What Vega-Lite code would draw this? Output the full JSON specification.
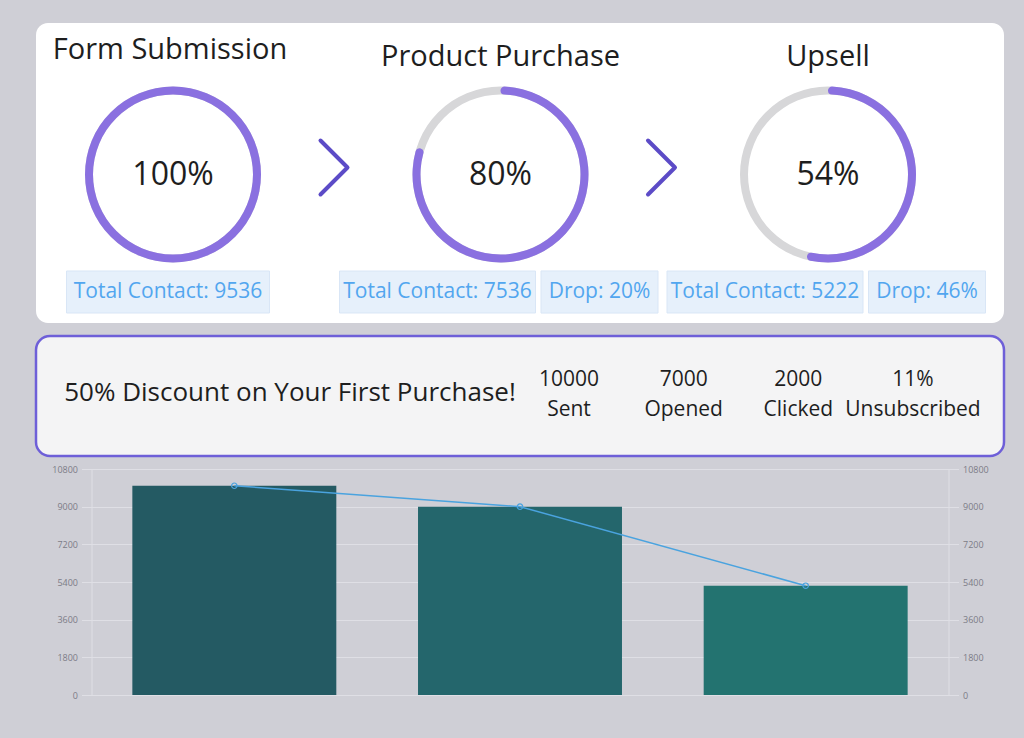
{
  "$schema": "https://vega.github.io/schema/vega-lite/v6.json",
  "background": "#cfcfd6",
  "padding": {"left": 34, "top": 23, "right": 22, "bottom": 40},
  "config": {"font": "Open Sans", "view": {"stroke": null}},
  "datasets": {
    "stages": [
      {"stage": "Form Submission", "share": 1, "contact": "Total Contact: 9536", "drop": null},
      {"stage": "Product Purchase", "share": 0.8, "contact": "Total Contact: 7536", "drop": "Drop: 20%"},
      {"stage": "Upsell", "share": 0.54, "contact": "Total Contact: 5222", "drop": "Drop: 46%"}
    ],
    "campaign": [
      {"metric": "Sent", "value": "10000"},
      {"metric": "Opened", "value": "7000"},
      {"metric": "Clicked", "value": "2000"},
      {"metric": "Unsubscribed", "value": "11%"}
    ],
    "funnel": [
      {"stage": "Form Submission", "count": 10000},
      {"stage": "Product Purchase", "count": 9000},
      {"stage": "Upsell", "count": 5222}
    ]
  },
  "bounds": "flush",
  "spacing": 13,
  "center": true,
  "vconcat": [
    {
      "width": 968,
      "height": 300,
      "view": {"fill": "white", "stroke": null, "cornerRadius": 12},
      "data": {"name": "stages"},
      "layer": [
        {
          "mark": {"type": "arc", "radius": 88, "radius2": 80, "color": "#d7d7d9"},
          "encoding": {
            "x": {"field": "stage", "type": "nominal", "axis": null, "scale": {"type": "point", "domain": ["Form Submission", "Product Purchase", "Upsell"], "range": [137, 792], "padding": 0}},
            "y": {"datum": "ring", "type": "nominal", "axis": null, "scale": {"type": "point", "domain": ["title", "ring", "box"], "range": [34, 269], "padding": 0}},
            "theta": {"datum": 1, "type": "quantitative", "scale": {"domain": [0, 1]}},
            "theta2": {"datum": 0}
          }
        },
        {
          "mark": {"type": "arc", "radius": 88, "radius2": 80, "color": "#8a70e0", "cornerRadius": 4},
          "encoding": {
            "x": {"field": "stage", "type": "nominal"},
            "y": {"datum": "ring", "type": "nominal"},
            "theta": {"field": "share", "type": "quantitative", "stack": null},
            "theta2": {"datum": 0}
          }
        },
        {
          "mark": {"type": "text", "fontSize": 32, "color": "#1e1e1e"},
          "encoding": {
            "x": {"field": "stage", "type": "nominal"},
            "y": {"datum": "ring", "type": "nominal"},
            "text": {"field": "share", "type": "quantitative", "format": ".0%"}
          }
        },
        {
          "transform": [{"filter": "datum.stage != 'Form Submission'"}],
          "mark": {"type": "text", "fontSize": 29, "color": "#1e1e1e"},
          "encoding": {
            "x": {"field": "stage", "type": "nominal"},
            "y": {"datum": "title", "type": "nominal"},
            "text": {"field": "stage", "type": "nominal"}
          }
        },
        {
          "transform": [{"filter": "datum.stage == 'Form Submission'"}],
          "mark": {"type": "text", "fontSize": 29, "color": "#1e1e1e", "dy": -7, "dx": -3},
          "encoding": {
            "x": {"field": "stage", "type": "nominal"},
            "y": {"datum": "title", "type": "nominal"},
            "text": {"field": "stage", "type": "nominal"}
          }
        },
        {
          "transform": [{"filter": "datum.stage != 'Upsell'"}],
          "mark": {"type": "point", "shape": "M-0.5,-1L0.5,0L-0.5,1", "size": 2916, "filled": false, "color": "#5c4bc7", "strokeWidth": 4, "strokeCap": "round", "strokeJoin": "round", "opacity": 1, "xOffset": 161, "yOffset": -7},
          "encoding": {
            "x": {"field": "stage", "type": "nominal"},
            "y": {"datum": "ring", "type": "nominal"}
          }
        },
        {
          "transform": [{"filter": "datum.stage == 'Form Submission'"}],
          "layer": [
            {
              "mark": {"type": "point", "shape": "M-1,-0.207H1V0.207H-1Z", "size": 41209, "filled": true, "color": "#e6f0fb", "stroke": "#d9e6f6", "strokeWidth": 1, "opacity": 1, "xOffset": -5}
            },
            {
              "mark": {"type": "text", "fontSize": 21, "color": "#52a6ef", "xOffset": -5},
              "encoding": {"text": {"field": "contact", "type": "nominal"}}
            }
          ],
          "encoding": {
            "x": {"field": "stage", "type": "nominal"},
            "y": {"datum": "box", "type": "nominal"}
          }
        },
        {
          "transform": [{"filter": "datum.stage != 'Form Submission'"}],
          "layer": [
            {
              "mark": {"type": "point", "shape": "M-1,-0.214H1V0.214H-1Z", "size": 38416, "filled": true, "color": "#e6f0fb", "stroke": "#d9e6f6", "strokeWidth": 1, "opacity": 1, "xOffset": -63}
            },
            {
              "mark": {"type": "text", "fontSize": 21, "color": "#52a6ef", "xOffset": -63},
              "encoding": {"text": {"field": "contact", "type": "nominal"}}
            },
            {
              "mark": {"type": "point", "shape": "M-1,-0.36H1V0.36H-1Z", "size": 13689, "filled": true, "color": "#e6f0fb", "stroke": "#d9e6f6", "strokeWidth": 1, "opacity": 1, "xOffset": 99}
            },
            {
              "mark": {"type": "text", "fontSize": 21, "color": "#52a6ef", "xOffset": 99},
              "encoding": {"text": {"field": "drop", "type": "nominal"}}
            }
          ],
          "encoding": {
            "x": {"field": "stage", "type": "nominal"},
            "y": {"datum": "box", "type": "nominal"}
          }
        }
      ]
    },
    {
      "width": 968,
      "height": 120,
      "view": {"fill": "#f4f4f5", "stroke": "#6e5fd8", "strokeWidth": 2.5, "cornerRadius": 14},
      "layer": [
        {
          "data": {"values": [{"headline": "50% Discount on Your First Purchase!"}]},
          "mark": {"type": "text", "fontSize": 26, "color": "#1e1e1e", "dy": -3},
          "encoding": {
            "x": {"field": "headline", "type": "nominal", "axis": null, "scale": {"type": "point", "range": [0, 508], "padding": 0.5}},
            "text": {"field": "headline", "type": "nominal"}
          }
        },
        {
          "data": {"name": "campaign"},
          "encoding": {
            "x": {"field": "metric", "type": "nominal", "sort": null, "axis": null, "scale": {"type": "point", "range": [533, 877], "padding": 0}}
          },
          "layer": [
            {
              "mark": {"type": "text", "fontSize": 21, "color": "#1e1e1e"},
              "encoding": {
                "y": {"datum": "value", "type": "nominal", "axis": null, "scale": {"type": "point", "domain": ["value", "metric"], "range": [44, 74], "padding": 0}},
                "text": {"field": "value", "type": "nominal"}
              }
            },
            {
              "mark": {"type": "text", "fontSize": 21, "color": "#1e1e1e"},
              "encoding": {
                "y": {"datum": "metric", "type": "nominal"},
                "text": {"field": "metric", "type": "nominal"}
              }
            }
          ]
        }
      ],
      "resolve": {"scale": {"x": "independent"}}
    },
    {
      "width": 857,
      "height": 226,
      "data": {"name": "funnel"},
      "encoding": {
        "x": {"field": "stage", "type": "nominal", "sort": null, "axis": null, "scale": {"paddingInner": 0.286, "paddingOuter": 0.143}}
      },
      "layer": [
        {
          "mark": {"type": "bar"},
          "encoding": {
            "y": {
              "field": "count", "type": "quantitative",
              "scale": {"domain": [0, 10800], "nice": false},
              "axis": {"orient": "left", "title": null, "values": [0, 1800, 3600, 5400, 7200, 9000, 10800], "format": "d", "labelFont": "Open Sans", "labelFontSize": 9, "labelColor": "#7c7c86", "tickColor": "#dfdfe5", "tickSize": 10, "domainColor": "#dfdfe5", "gridColor": "#dfdfe5", "grid": true, "labelPadding": 4}
            },
            "color": {"field": "stage", "type": "nominal", "sort": null, "legend": null, "scale": {"range": ["#245a63", "#24666c", "#237370"]}}
          }
        },
        {
          "mark": {"type": "line", "color": "#4aa3df", "strokeWidth": 1.5, "point": {"filled": false, "size": 30, "color": "#4aa3df", "strokeWidth": 1.2}},
          "encoding": {
            "y": {
              "field": "count", "type": "quantitative",
              "scale": {"domain": [0, 10800], "nice": false},
              "axis": {"orient": "right", "title": null, "values": [0, 1800, 3600, 5400, 7200, 9000, 10800], "format": "d", "labelFont": "Open Sans", "labelFontSize": 9, "labelColor": "#7c7c86", "tickColor": "#dfdfe5", "tickSize": 10, "domainColor": "#dfdfe5", "grid": false, "labelPadding": 4}
            }
          }
        }
      ],
      "resolve": {"scale": {"y": "independent"}}
    }
  ]
}
